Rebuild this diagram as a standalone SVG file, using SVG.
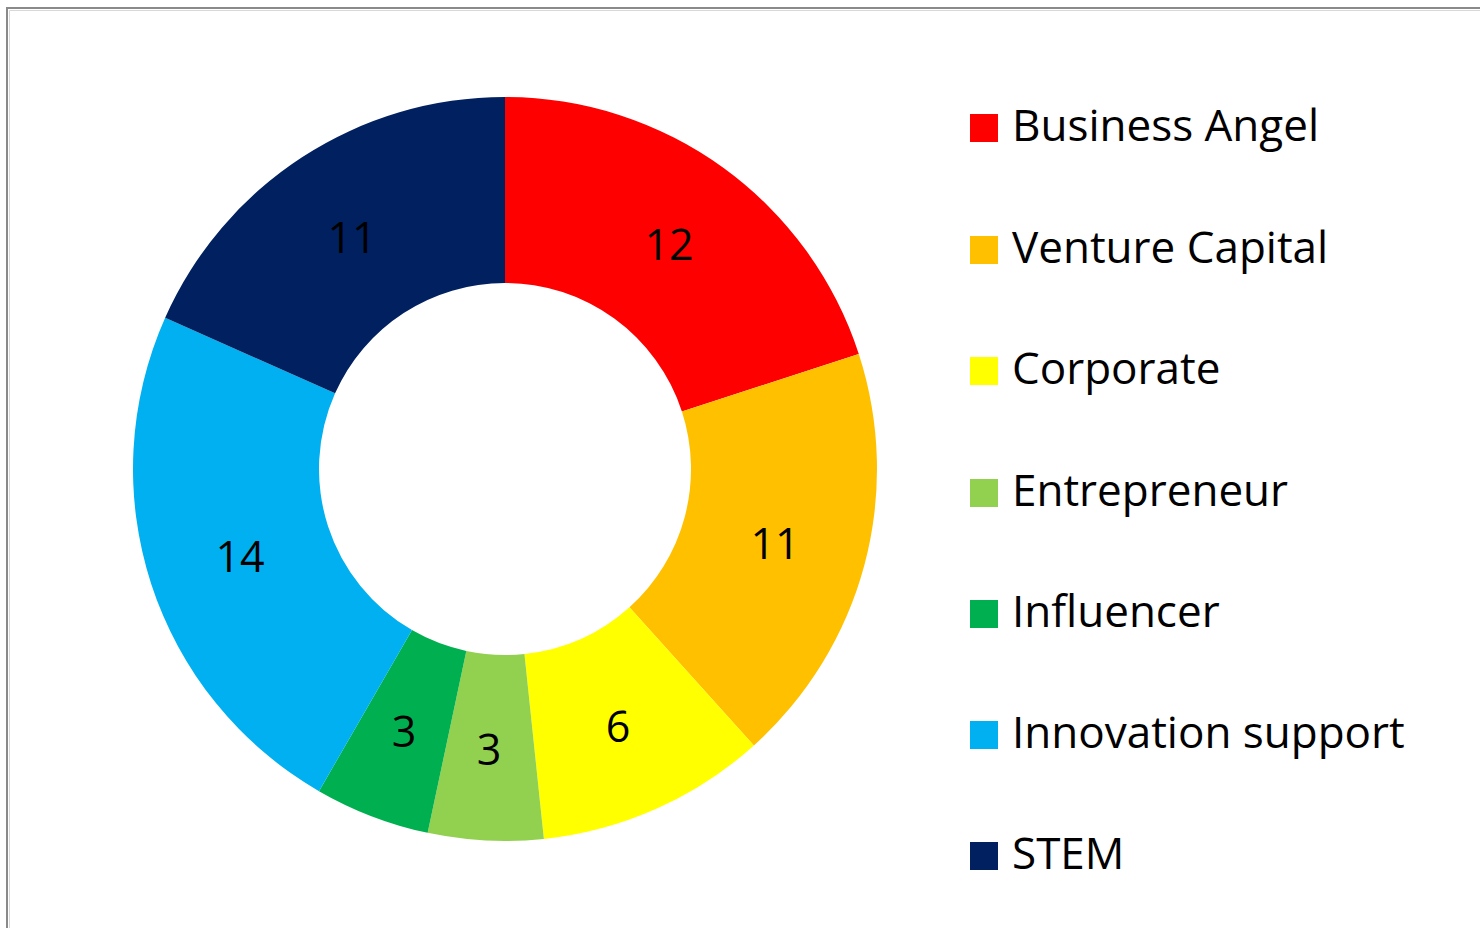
<svg xmlns="http://www.w3.org/2000/svg" width="1480" height="928" viewBox="0 0 1480 928">
  <style>
    .lbl { font-family: "Open Sans", "Liberation Sans", sans-serif; font-size: 43px; fill: #000; text-anchor: middle; dominant-baseline: central; }
    .leg { font-family: "Open Sans", "Liberation Sans", sans-serif; font-size: 44px; fill: #000; }
  </style>
  <rect x="0" y="0" width="1480" height="928" fill="#ffffff"/>
  <g id="frame">
    <path d="M7,928 V8 H1480" fill="none" stroke="#8a8a8a" stroke-width="2"/>
    <path d="M9.5,928 V10.5 H1480" fill="none" stroke="#d8d8d8" stroke-width="1"/>
  </g>
  <g id="slices">
    <g id="slice-business-angel">
      <path d="M505,97 A372,372 0 0 1 858.79,354.05 L681.90,411.52 A186,186 0 0 0 505,283 Z" fill="#FF0000"/>
      <text class="lbl" x="669" y="243">12</text>
    </g>
    <g id="slice-venture-capital">
      <path d="M858.79,354.05 A372,372 0 0 1 753.92,745.45 L629.46,607.22 A186,186 0 0 0 681.90,411.52 Z" fill="#FFC000"/>
      <text class="lbl" x="775" y="542">11</text>
    </g>
    <g id="slice-corporate">
      <path d="M753.92,745.45 A372,372 0 0 1 543.88,838.96 L524.44,653.98 A186,186 0 0 0 629.46,607.22 Z" fill="#FFFF00"/>
      <text class="lbl" x="618" y="725">6</text>
    </g>
    <g id="slice-entrepreneur">
      <path d="M543.88,838.96 A372,372 0 0 1 427.66,832.87 L466.33,650.94 A186,186 0 0 0 524.44,653.98 Z" fill="#92D050"/>
      <text class="lbl" x="489" y="748">3</text>
    </g>
    <g id="slice-influencer">
      <path d="M427.66,832.87 A372,372 0 0 1 319,791.16 L412,630.08 A186,186 0 0 0 466.33,650.94 Z" fill="#00B050"/>
      <text class="lbl" x="404" y="730">3</text>
    </g>
    <g id="slice-innovation-support">
      <path d="M319,791.16 A372,372 0 0 1 165.16,317.69 L335.08,393.35 A186,186 0 0 0 412,630.08 Z" fill="#00B0F0"/>
      <text class="lbl" x="240" y="555">14</text>
    </g>
    <g id="slice-stem">
      <path d="M165.16,317.69 A372,372 0 0 1 505,97 L505,283 A186,186 0 0 0 335.08,393.35 Z" fill="#002060"/>
      <text class="lbl" x="352" y="236">11</text>
    </g>
  </g>
  <g id="legend">
    <g id="legend-business-angel">
      <rect x="970" y="114" width="28" height="28" fill="#FF0000"/>
      <text class="leg" x="1012" y="141">Business Angel</text>
    </g>
    <g id="legend-venture-capital">
      <rect x="970" y="236" width="28" height="28" fill="#FFC000"/>
      <text class="leg" x="1012" y="263">Venture Capital</text>
    </g>
    <g id="legend-corporate">
      <rect x="970" y="357" width="28" height="28" fill="#FFFF00"/>
      <text class="leg" x="1012" y="384">Corporate</text>
    </g>
    <g id="legend-entrepreneur">
      <rect x="970" y="479" width="28" height="28" fill="#92D050"/>
      <text class="leg" x="1012" y="506">Entrepreneur</text>
    </g>
    <g id="legend-influencer">
      <rect x="970" y="600" width="28" height="28" fill="#00B050"/>
      <text class="leg" x="1012" y="627">Influencer</text>
    </g>
    <g id="legend-innovation-support">
      <rect x="970" y="721" width="28" height="28" fill="#00B0F0"/>
      <text class="leg" x="1012" y="748">Innovation support</text>
    </g>
    <g id="legend-stem">
      <rect x="970" y="842" width="28" height="28" fill="#002060"/>
      <text class="leg" x="1012" y="869">STEM</text>
    </g>
  </g>
</svg>
